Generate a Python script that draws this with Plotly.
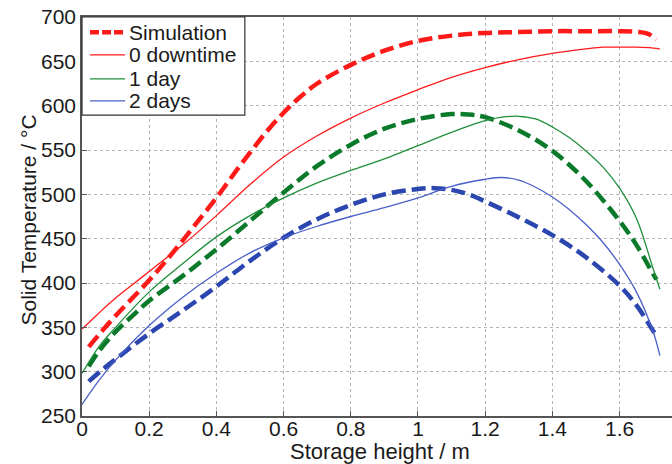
import plotly.graph_objects as go

# Storage height positions (m) and solid temperatures (°C)
sim0_x = [0.02, 0.06, 0.10, 0.15, 0.20, 0.25, 0.30, 0.35, 0.40, 0.45, 0.50, 0.55, 0.60, 0.65,
          0.70, 0.80, 0.90, 1.00, 1.10, 1.20, 1.30, 1.40, 1.50, 1.60, 1.66, 1.685, 1.71]
sim0_y = [328, 346, 363, 383, 403, 425, 448, 472, 496, 522, 547, 571, 592, 610,
          625, 646, 662, 673, 679, 682, 683, 684, 684, 684, 683, 681, 675]

meas0_x = [0.00, 0.05, 0.10, 0.15, 0.20, 0.25, 0.30, 0.40, 0.50, 0.60, 0.70, 0.80, 0.90,
           1.00, 1.10, 1.20, 1.30, 1.40, 1.50, 1.55, 1.60, 1.65, 1.70, 1.72]
meas0_y = [348, 366, 383, 398, 413, 428, 443, 476, 511, 542, 566, 586, 603,
           618, 632, 643, 652, 659, 664, 666, 666, 666, 665, 664]

sim1_x = [0.02, 0.05, 0.10, 0.15, 0.20, 0.30, 0.40, 0.50, 0.60, 0.70, 0.80, 0.90, 1.00,
          1.10, 1.15, 1.20, 1.30, 1.40, 1.50, 1.60, 1.65, 1.70, 1.71]
sim1_y = [306, 323, 345, 363, 380, 408, 438, 470, 502, 532, 556, 574, 585,
          590.5, 590, 587, 572, 549, 515, 470, 443, 410, 404]

meas1_x = [0.00, 0.05, 0.10, 0.20, 0.30, 0.40, 0.50, 0.60, 0.70, 0.80, 0.90, 1.00, 1.10,
           1.20, 1.25, 1.30, 1.35, 1.40, 1.45, 1.50, 1.55, 1.60, 1.65, 1.70, 1.72]
meas1_y = [298, 328, 350, 390, 422, 452, 476, 496, 513, 527, 540, 555, 570,
           583, 587, 588, 585, 576, 564, 549, 531, 507, 473, 416, 393]

sim2_x = [0.02, 0.06, 0.10, 0.20, 0.30, 0.40, 0.50, 0.60, 0.70, 0.80, 0.90, 1.00, 1.05,
          1.10, 1.15, 1.20, 1.30, 1.40, 1.50, 1.60, 1.65, 1.70, 1.71]
sim2_y = [289, 302, 314, 343, 369, 396, 425, 451, 472, 488, 500, 506, 507,
          505, 500, 492, 474, 454, 429, 397, 375, 346, 340]

meas2_x = [0.00, 0.05, 0.10, 0.20, 0.30, 0.40, 0.50, 0.60, 0.70, 0.80, 0.90, 1.00, 1.10,
           1.20, 1.25, 1.30, 1.35, 1.40, 1.45, 1.50, 1.55, 1.60, 1.65, 1.70, 1.72]
meas2_y = [263, 290, 313, 352, 384, 411, 434, 451, 464, 475, 485, 496, 509,
           517, 519, 516, 508, 497, 483, 466, 446, 421, 390, 345, 318]

legend_labels = ["Simulation", "0 downtime", "1 day", "2 days"]
x_ticks = [0, 0.2, 0.4, 0.6, 0.8, 1, 1.2, 1.4, 1.6, 1.8]
x_tick_text = ["0", "0.2", "0.4", "0.6", "0.8", "1", "1.2", "1.4", "1.6", "1.8"]
y_ticks = [250, 300, 350, 400, 450, 500, 550, 600, 650, 700]
x_title = "Storage height / m"
y_title = "Solid Temperature / °C"

RED = "#ff1a1a"
GREEN_S = "#1f8f3a"
GREEN_D = "#0a7a2a"
BLUE_S = "#4a5fc8"
BLUE_D = "#2c46b0"
DASH = "14px,6px"
FONT = "Liberation Sans, Arial, sans-serif"
TEXT = "#1a1a1a"

fig = go.Figure()

series = [
    (sim0_x, sim0_y, RED, 4.5, DASH),
    (meas0_x, meas0_y, RED, 1.3, "solid"),
    (sim1_x, sim1_y, GREEN_D, 4.5, DASH),
    (meas1_x, meas1_y, GREEN_S, 1.3, "solid"),
    (sim2_x, sim2_y, BLUE_D, 4.5, DASH),
    (meas2_x, meas2_y, BLUE_S, 1.3, "solid"),
]
for xs, ys, col, w, dash in series:
    fig.add_trace(go.Scatter(
        x=xs, y=ys, mode="lines",
        line=dict(color=col, width=w, dash=dash, shape="spline", smoothing=1.0),
        showlegend=False, hoverinfo="skip",
    ))

# Legend box drawn in plot-area fractions
legend_rows = [0.962, 0.905, 0.845, 0.790]
legend_styles = [(RED, 4.5, "9px,3px"), (RED, 1.3, "solid"), (GREEN_S, 1.3, "solid"), (BLUE_S, 1.3, "solid")]
shapes = [dict(type="rect", xref="paper", yref="paper", x0=0.0, x1=0.276, y0=0.754, y1=1.0,
               line=dict(color="#333333", width=1.2), fillcolor="white", layer="above")]
annotations = []
for label, yy, (col, w, d) in zip(legend_labels, legend_rows, legend_styles):
    shapes.append(dict(type="line", xref="paper", yref="paper", x0=0.0136, x1=0.073, y0=yy, y1=yy,
                       line=dict(color=col, width=w, dash=d), layer="above"))
    annotations.append(dict(xref="paper", yref="paper", x=0.077, y=yy, text=label,
                            showarrow=False, xanchor="left", yanchor="middle",
                            font=dict(family=FONT, size=21, color=TEXT)))

# Axis titles
annotations.append(dict(xref="paper", yref="paper", x=0.505, y=-0.088, text=x_title,
                        showarrow=False, xanchor="center", yanchor="middle",
                        font=dict(family=FONT, size=22, color=TEXT)))
annotations.append(dict(xref="paper", yref="paper", x=-0.0915, y=0.49, text=y_title,
                        showarrow=False, xanchor="center", yanchor="middle", textangle=-90,
                        font=dict(family=FONT, size=21, color=TEXT)))

fig.update_layout(
    width=672, height=464,
    margin=dict(l=82, r=0, t=17, b=48),
    paper_bgcolor="white", plot_bgcolor="white",
    font=dict(family=FONT, size=21, color=TEXT),
    shapes=shapes, annotations=annotations,
    xaxis=dict(
        range=[0, 1.756], tickvals=x_ticks, ticktext=x_tick_text,
        showline=True, linecolor="#555555", linewidth=1.5, mirror=True,
        ticks="inside", ticklen=5, tickcolor="#555555",
        showgrid=True, gridcolor="#b4b4b4", gridwidth=1, griddash="dot",
        zeroline=False, tickfont=dict(size=21), ticklabelstandoff=-7,
    ),
    yaxis=dict(
        range=[250, 700], tickvals=y_ticks,
        showline=True, linecolor="#555555", linewidth=1.5,
        ticks="inside", ticklen=5, tickcolor="#555555",
        showgrid=True, gridcolor="#b4b4b4", gridwidth=1, griddash="dot",
        zeroline=False, tickfont=dict(size=21),
    ),
)

fig.write_html("out.html")
